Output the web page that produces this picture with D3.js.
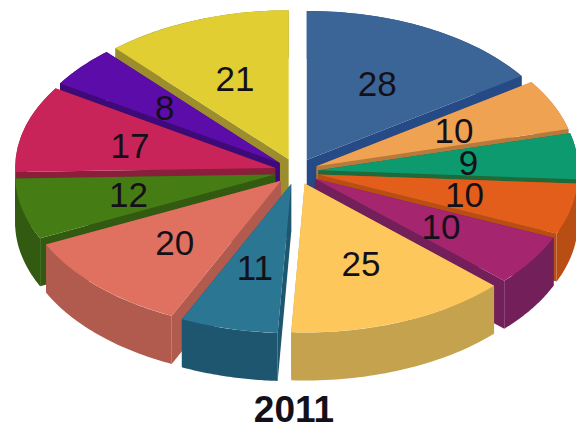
<!DOCTYPE html>
<html>
<head>
<meta charset="utf-8">
<script src="https://cdn.jsdelivr.net/npm/d3@7"></script>
<style>
    html, body { margin: 0; padding: 0; background: #fff; }
    text { font-family: "Liberation Sans", Arial, sans-serif; fill: #14101a; }
</style>
</head>
<body>
<div id="chart_div"></div>
<script>
let title = '2011';
let values = [28, 10, 9, 10, 10, 25, 11, 20, 12, 17, 8, 21];
let top_colors = ['#3b6597', '#f0a253', '#0d9a6e', '#e25e1a', '#a5256f', '#fdc75b',
    '#2a7693', '#e0705f', '#457c13', '#c92459', '#5c0ca8', '#e0ce32'];
let wall_colors = ['#254a86', '#b87a3c', '#1f6a3a', '#b84e14', '#731f5a', '#c4a24e',
    '#1f566f', '#b05b4e', '#325a10', '#8a1e3b', '#3e0a78', '#9c8e2d'];

let width = 576, height = 425;
let center = {x: 296.5, y: 171.5};
let radius = {x: 260, y: 149};
let explode = {x: 22, y: 13};
let depth = 48;
let label_fraction = 0.58;

let svg = d3.select('#chart_div').append('svg')
    .attr('width', width)
    .attr('height', height)
    .style('display', 'block');

let slices = d3.pie().sort(null).value((d, i) => d)(values);

slices.forEach(function (d) {
    d.mid = (d.startAngle + d.endAngle) / 2;
    d.apex = {
        x: center.x + explode.x * Math.sin(d.mid),
        y: center.y - explode.y * Math.cos(d.mid)
    };
});

// flat pie squashed into an ellipse, angle 0 at twelve o'clock like d3.arc
function project(d, angle, fraction, z) {
    return [
        d.apex.x + radius.x * fraction * Math.sin(angle),
        d.apex.y - radius.y * fraction * Math.cos(angle) + z
    ];
}

let arc = d3.arc().innerRadius(0).outerRadius(1);
let line = d3.line();

// painter's order, back slices first
let ordered = slices.slice().sort((a, b) => Math.cos(b.mid) - Math.cos(a.mid));

let group = svg.selectAll('g.slice')
    .data(ordered)
    .enter().append('g')
    .attr('class', 'slice');

group.each(function (d) {
    let g = d3.select(this);
    let wall = wall_colors[d.index];

    [d.startAngle, d.endAngle].forEach(function (a) {
        g.append('path')
            .attr('d', line([project(d, a, 0, 0), project(d, a, 1, 0), project(d, a, 1, depth), project(d, a, 0, depth)]) + 'Z')
            .attr('fill', wall);
    });

    // outer rim
    let angles = d3.range(0, 41).map(i => d.startAngle + (d.endAngle - d.startAngle) * i / 40);
    let rim = angles.map(a => project(d, a, 1, 0))
        .concat(angles.slice().reverse().map(a => project(d, a, 1, depth)));
    g.append('path')
        .attr('d', line(rim) + 'Z')
        .attr('fill', wall);

    g.append('path')
        .attr('d', arc({startAngle: d.startAngle, endAngle: d.endAngle}))
        .attr('transform', `translate(${d.apex.x},${d.apex.y}) scale(${radius.x},${radius.y})`)
        .attr('fill', top_colors[d.index]);
});

svg.selectAll('text.value')
    .data(slices)
    .enter().append('text')
    .attr('class', 'value')
    .attr('x', d => project(d, d.mid, label_fraction, 0)[0])
    .attr('y', d => project(d, d.mid, label_fraction, 0)[1])
    .attr('text-anchor', 'middle')
    .attr('dominant-baseline', 'central')
    .style('font-size', '35px')
    .text(d => d.value);

svg.append('text')
    .attr('x', 294)
    .attr('y', 422)
    .attr('text-anchor', 'middle')
    .style('font-size', '37px')
    .style('font-weight', 'bold')
    .text(title);
</script>
</body>
</html>
